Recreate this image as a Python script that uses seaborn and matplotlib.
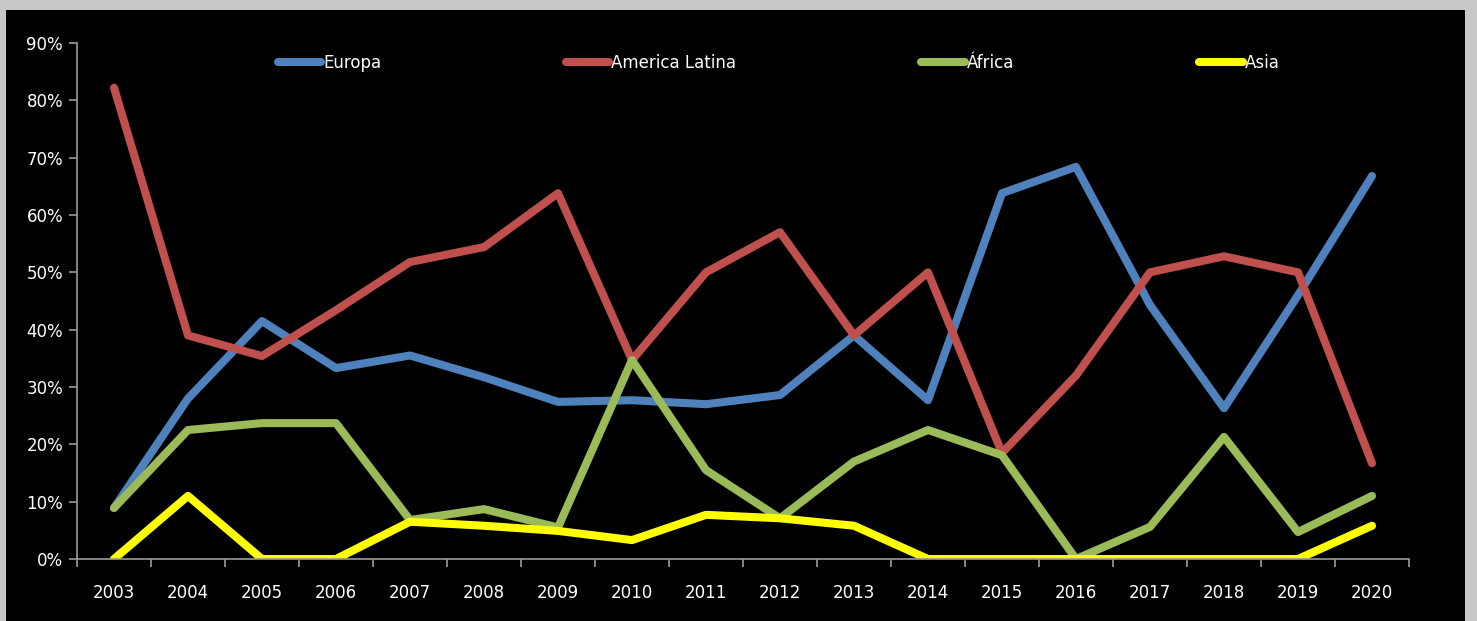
import numpy as np
import pandas as pd
import matplotlib
matplotlib.use("Agg")
import matplotlib.pyplot as plt
import seaborn as sns
from matplotlib.patches import Rectangle
from matplotlib.ticker import FixedLocator, PercentFormatter

# Data (share per region, %)
years = list(range(2003, 2021))
europa = [8.9, 28.0, 41.5, 33.3, 35.5, 31.7, 27.4, 27.7, 27.0, 28.6, 39.0, 27.7, 63.8, 68.4, 44.3, 26.3, 46.0, 66.8]
america_latina = [82.2, 39.0, 35.4, 43.4, 51.8, 54.4, 63.8, 34.7, 50.0, 57.0, 39.0, 50.0, 18.5, 32.0, 50.0, 52.8, 50.0, 16.7]
africa = [8.9, 22.5, 23.7, 23.7, 6.8, 8.7, 5.5, 34.7, 15.5, 7.1, 17.0, 22.5, 18.1, 0.0, 5.6, 21.3, 4.7, 11.0]
asia = [0.0, 11.0, 0.0, 0.0, 6.5, 5.8, 4.9, 3.3, 7.7, 7.1, 5.8, 0.0, 0.0, 0.0, 0.0, 0.0, 0.0, 5.8]

regions = ["Europa", "America Latina", "África", "Asia"]
colors = ["#4f81bd", "#c0504d", "#9bbb59", "#ffff00"]

df = pd.concat([
    pd.DataFrame({"year": years, "value": vals, "region": name})
    for name, vals in zip(regions, [europa, america_latina, africa, asia])
], ignore_index=True)

sns.set_style("dark")
plt.rcParams["font.family"] = ["DejaVu Sans"]

fig = plt.figure(figsize=(14.77, 6.21), dpi=100, facecolor="#c8c8c8")
# black panel inside the grey frame
fig.patches.append(Rectangle((6 / 1477, 0), 1459 / 1477, 611 / 621,
                             transform=fig.transFigure, facecolor="black",
                             edgecolor="none", zorder=-10))
ax = fig.add_axes([77 / 1477, 1 - 559 / 621, 1332 / 1477, (559 - 43) / 621])
ax.set_zorder(5)
ax.set_facecolor("black")

sns.lineplot(data=df, x="year", y="value", hue="region", hue_order=regions,
             palette=colors, linewidth=5.8, sort=False, ax=ax, legend=False,
             solid_capstyle="round")

ax.set_xlim(2002.5, 2020.5)
ax.set_ylim(0, 90)
ax.grid(False)

for side in ["top", "right"]:
    ax.spines[side].set_visible(False)
for side in ["left", "bottom"]:
    ax.spines[side].set_color("#9a9a9a")
    ax.spines[side].set_linewidth(1.2)

ax.set_xticks(years)
ax.set_xticklabels([str(y) for y in years])
ax.xaxis.set_minor_locator(FixedLocator(np.arange(2002.5, 2021, 1.0)))
ax.tick_params(axis="x", which="both", bottom=True)
ax.tick_params(axis="x", which="major", length=0, pad=18, labelsize=12, labelcolor="white")
ax.tick_params(axis="x", which="minor", length=6, width=1.2, color="#9a9a9a", direction="out")

ax.set_yticks(np.arange(0, 91, 10))
ax.yaxis.set_major_formatter(PercentFormatter(decimals=0))
ax.tick_params(axis="y", left=True, length=6, width=1.2, color="#9a9a9a", pad=4,
               labelsize=12, labelcolor="white")
ax.set_xlabel("")
ax.set_ylabel("")

handles = [plt.Line2D([], [], color=c, linewidth=5.8, solid_capstyle="round") for c in colors]
leg = ax.legend(handles, regions, ncol=4, loc="center left",
                bbox_to_anchor=(194 / 1332, (559 - 63) / (559 - 43)),
                frameon=False, fontsize=12, handlelength=2.6, handletextpad=0.12,
                columnspacing=11.1, borderaxespad=0)
for t in leg.get_texts():
    t.set_color("white")

fig.savefig("out.png", dpi=100, facecolor=fig.get_facecolor())
